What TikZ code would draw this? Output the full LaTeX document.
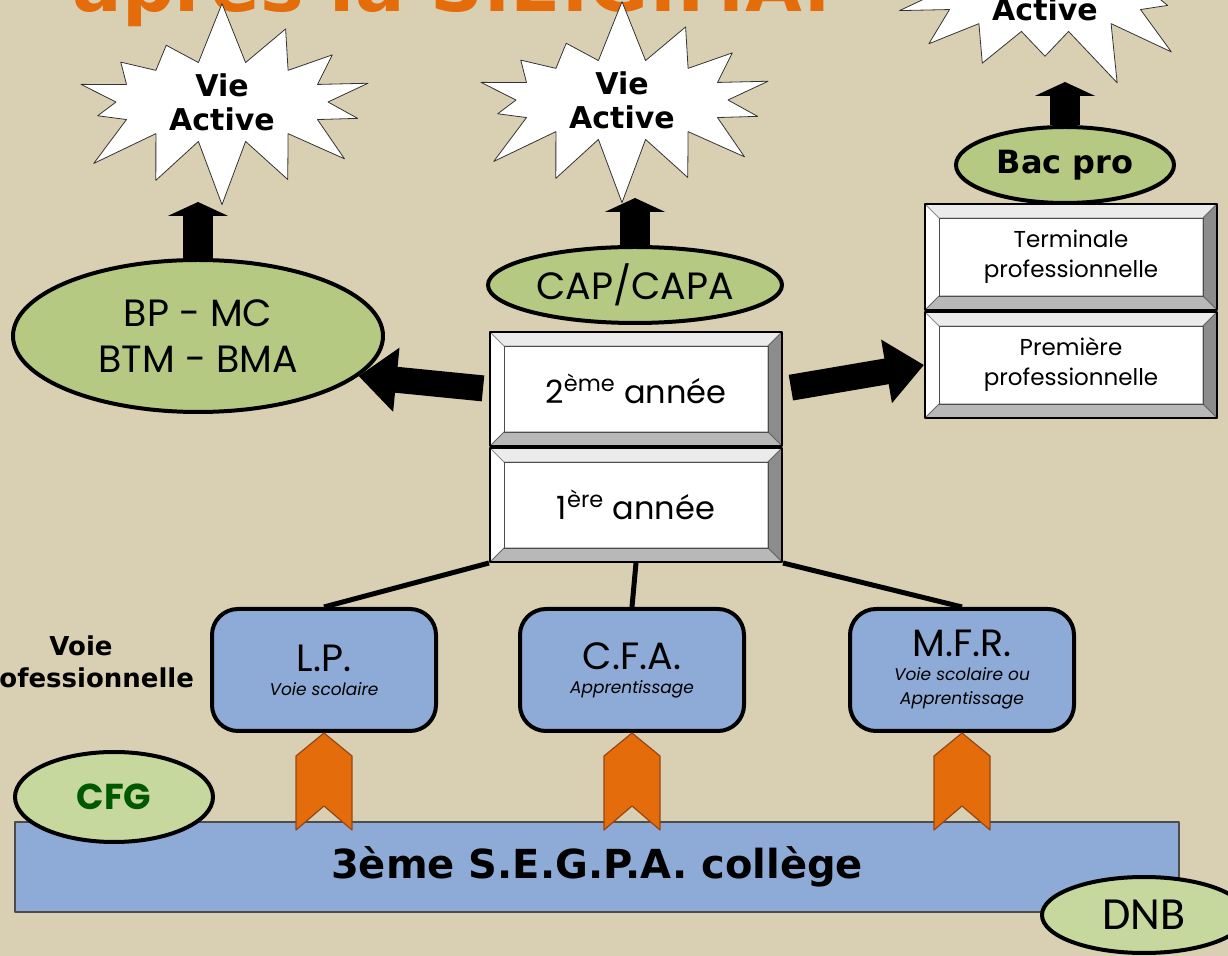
\documentclass[tikz,border=0pt]{standalone}
\usepackage{fontspec}
\setmainfont{Poppins}
\newfontfamily\dejavu{DejaVu Sans}
\newfontfamily\calib{Carlito}
\usetikzlibrary{shapes.symbols,shapes.geometric,arrows.meta,positioning}

\definecolor{beige}{RGB}{217,208,180}
\definecolor{leaf}{RGB}{181,201,131}
\definecolor{paleleaf}{RGB}{198,216,158}
\definecolor{sky}{RGB}{142,170,214}
\definecolor{rust}{RGB}{228,108,10}
\definecolor{darkrust}{RGB}{150,70,20}

\tikzset{
  bevel/.style={draw, line width=1pt, fill=white, minimum width=146pt, inner sep=0pt, align=center,
    path picture={
      \coordinate (nw) at (path picture bounding box.north west);
      \coordinate (ne) at (path picture bounding box.north east);
      \coordinate (sw) at (path picture bounding box.south west);
      \coordinate (se) at (path picture bounding box.south east);
      \filldraw[black!8, draw=black!45, thin] (nw) -- (ne) -- ([shift={(-14,14)}]ne) -- ([shift={(14,14)}]nw) -- cycle;
      \filldraw[black!45, draw=black!60, thin] (ne) -- (se) -- ([shift={(-14,-14)}]se) -- ([shift={(-14,14)}]ne) -- cycle;
      \filldraw[black!28, draw=black!60, thin] (se) -- (sw) -- ([shift={(14,-14)}]sw) -- ([shift={(-14,-14)}]se) -- cycle;
      \draw[black!70, thin] ([shift={(14,14)}]nw) rectangle ([shift={(-14,-14)}]se);
    }}
}

\begin{document}
\begin{tikzpicture}[x=0.5pt, y=-0.5pt, line join=round,
  star/.style={starburst, starburst points=14, starburst point height=32pt, random starburst=7,
    draw=black!80, thin, fill=white, inner sep=0pt, minimum width=170pt, minimum height=98pt,
    align=center, font=\dejavu\bfseries\fontsize{15}{17}\selectfont},
  oval/.style={ellipse, draw, line width=2pt, fill=leaf, inner sep=0pt, align=center},
  school/.style={draw, line width=2pt, fill=sky, rounded corners=13pt, minimum width=112pt,
    minimum height=61pt, align=center},
  up/.style={line width=15pt, -{Triangle[width=30pt, length=7pt]}},
  side/.style={line width=13pt, -{Triangle[width=31pt, length=19pt]}},
  link/.style={line width=2.5pt},
  chevron/.style={fill=rust, draw=darkrust, line width=0.6pt}]

	\newcommand*{\sigle}[1]{{\fontsize{19}{22}\selectfont #1}} % box title
	\newcommand*{\voie}[1]{{\itshape\fontsize{8.5}{10.5}\selectfont #1}} % small italic line
	\newcommand*{\chev}[1]{\draw[chevron] (#1.south) -- ++(28,23) -- ++(0,74) -- ++(-28,-24) -- ++(-28,24) -- ++(0,-74) -- cycle;}

	\useasboundingbox (0,0) rectangle (1228,956);
	\clip (0,0) rectangle (1228,956);
	\fill[beige] (0,0) rectangle (1228,956);

	\node[anchor=base, text=rust, font=\dejavu\bfseries\fontsize{36.7}{40}\selectfont] (title) at (452,12) {après la S.E.G.P.A.};

	\node[star] (va1) at (222,102) {Vie\\Active};
	\node[star] (va2) at (622,100) {Vie\\Active};
	\node[star, random starburst=3] (va3) at (1045,-8) {Vie\\Active};

	\node[oval, minimum width=185pt, minimum height=76pt, font=\fontsize{19}{23}\selectfont] (bp) at (198,336) {BP - MC\\BTM - BMA};
	\node[oval, minimum width=147pt, minimum height=38pt, font=\fontsize{19}{21}\selectfont] (cap) at (635,285) {CAP/CAPA};
	\node[oval, minimum width=109pt, minimum height=38pt, font=\dejavu\bfseries\fontsize{16}{18}\selectfont] (bac) at (1065,165) {Bac pro};

	\node[bevel, minimum height=57pt, font=\fontsize{16}{18}\selectfont] (an2) at (636,389) {2\textsuperscript{ème} année};
	\node[bevel, minimum height=57pt, font=\fontsize{16}{18}\selectfont, below=0pt of an2] (an1) {1\textsuperscript{ère} année};
	\node[bevel, minimum height=53pt, font=\fontsize{11.5}{15}\selectfont] (term) at (1071,257) {Terminale\\professionnelle};
	\node[bevel, minimum height=53pt, font=\fontsize{11.5}{15}\selectfont, below=0pt of term] (prem) {Première\\professionnelle};

	% arrow tips just under the stars
	\coordinate (foot1) at (bp.north |- 0,202);
	\coordinate (foot2) at (cap.north |- 0,198);
	\coordinate (foot3) at (bac.north |- 0,82);
	\draw[up] (bp.north) -- (foot1);
	\draw[up] (cap.north) -- (foot2);
	\draw[up] (bac.north) -- (foot3);
	\draw[side, shorten <=3pt] (an2.west) -- (bp.-14);
	\draw[side, shorten <=4pt] (an2.east) -- (prem.west);

	\node[font=\dejavu\bfseries\fontsize{13}{16}\selectfont, align=center] (voie) at (81,664) {Voie\\professionnelle};
	\node[school] (lp) at (324,670) {\sigle{L.P.}\\\voie{Voie scolaire}};
	\node[school] (cfa) at (632,670) {\sigle{C.F.A.}\\\voie{Apprentissage}};
	\node[school] (mfr) at (962,670) {\sigle{M.F.R.}\\\voie{Voie scolaire ou}\\\voie{Apprentissage}};

	\draw[link] (an1.south west) -- (lp.north);
	\draw[link] (an1.south) -- (cfa.north);
	\draw[link] (an1.south east) -- (mfr.north);

	\node[draw=black!70, line width=0.8pt, fill=sky, minimum width=582pt, minimum height=45pt,
	  font=\dejavu\bfseries\fontsize{20}{22}\selectfont] (segpa) at (597,867) {3ème S.E.G.P.A. collège};
	\chev{lp}
	\chev{cfa}
	\chev{mfr}

	\node[oval, fill=paleleaf, minimum width=99pt, minimum height=45pt, text=green!35!black,
	  font=\bfseries\fontsize{18}{20}\selectfont] (cfg) at (114,797) {CFG};
	\node[oval, fill=paleleaf, minimum width=102pt, minimum height=38pt, font=\calib\fontsize{23}{25}\selectfont] (dnb) at (1144,915) {DNB};

\end{tikzpicture}
\end{document}
